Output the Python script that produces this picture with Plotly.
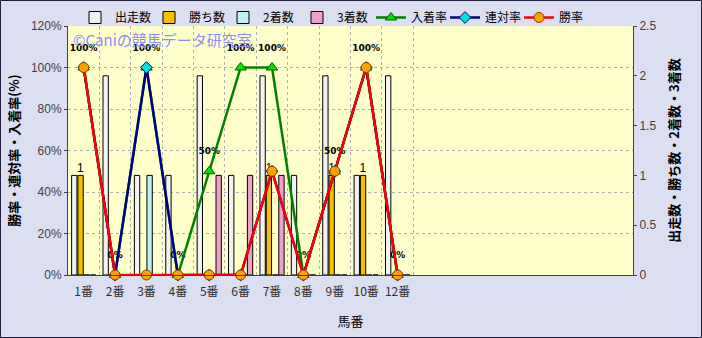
import plotly.graph_objects as go

categories = ["1番", "2番", "3番", "4番", "5番", "6番", "7番", "8番", "9番", "10番", "12番"]
starts = [1, 2, 1, 1, 2, 1, 2, 1, 2, 1, 2]
wins = [1, 0, 0, 0, 0, 0, 1, 0, 1, 1, 0]
seconds = [0, 0, 1, 0, 0, 0, 0, 0, 0, 0, 0]
thirds = [0, 0, 0, 0, 1, 1, 1, 0, 0, 0, 0]
place_rate = [100, 0, 100, 0, 50, 100, 100, 0, 50, 100, 0]
quinella_rate = [100, 0, 100, 0, 0, 0, 50, 0, 50, 100, 0]
win_rate = [100, 0, 0, 0, 0, 0, 50, 0, 50, 100, 0]
n_slots = 18

FONT = "Liberation Sans, Noto Sans CJK JP, sans-serif"
JP = "Noto Sans CJK JP, sans-serif"

fig = go.Figure()
bar_specs = [
    ("出走数", starts, "#f2f2f2", None),
    ("勝ち数", wins, "#f5c000", [str(v) if v > 0 else "" for v in wins]),
    ("2着数", seconds, "#bff0f0", None),
    ("3着数", thirds, "#f0a0c8", None),
]
for name, vals, col, txt in bar_specs:
    fig.add_trace(go.Bar(
        x=categories, y=vals, name=name, yaxis="y",
        marker=dict(color=col, line=dict(color="#000000", width=1)),
        text=txt, textposition="outside", cliponaxis=False, constraintext="none",
        textfont=dict(family=FONT, size=12, color="#000000"),
    ))

# data labels for 入着率 (drawn under lines)
fig.add_trace(go.Scatter(
    x=categories, y=place_rate, yaxis="y2", mode="markers+text",
    text=[f"{v}%" for v in place_rate], textposition="top center",
    marker=dict(size=22, opacity=0), showlegend=False, hoverinfo="skip",
    textfont=dict(family="DejaVu Sans, sans-serif", size=9, color="#000000", weight="bold"),
    cliponaxis=False,
))
fig.add_trace(go.Scatter(
    x=categories, y=place_rate, yaxis="y2", name="入着率", mode="lines+markers",
    line=dict(color="#008000", width=2.5),
    marker=dict(symbol="triangle-up", size=10, color="#00e000", line=dict(color="#006000", width=1)),
    cliponaxis=False,
))
fig.add_trace(go.Scatter(
    x=categories, y=quinella_rate, yaxis="y2", name="連対率", mode="lines+markers",
    line=dict(color="#000080", width=2.5),
    marker=dict(symbol="diamond", size=9, color="#00e0e0", line=dict(color="#000080", width=1)),
    cliponaxis=False,
))
fig.add_trace(go.Scatter(
    x=categories, y=win_rate, yaxis="y2", name="勝率", mode="lines+markers",
    line=dict(color="#ff0000", width=2.5),
    marker=dict(symbol="circle", size=10, color="#ffa000", line=dict(color="#804000", width=1)),
    cliponaxis=False,
))

L, R, T, B = 68, 69, 26, 63
W, H = 702, 338
pw, ph = W - L - R, H - T - B

fig.update_layout(
    width=W, height=H,
    margin=dict(l=L, r=R, t=T, b=B, pad=0, autoexpand=False),
    paper_bgcolor="#dcdff2", plot_bgcolor="#ffffcc",
    barmode="group", bargap=0.2, bargroupgap=0.15,
    font=dict(family=JP, size=12, color="#000000"),
    showlegend=True,
    legend=dict(orientation="h", x=7 / W + L / W, xref="container", xanchor="left",
                yref="container", y=1 - 3 / H, yanchor="top",
                font=dict(family=JP, size=12, color="#000000"), bgcolor="rgba(0,0,0,0)",
                itemwidth=30, entrywidth=29, traceorder="normal"),
    xaxis=dict(type="category", range=[-0.5, n_slots - 0.5], tickson="boundaries",
               showgrid=True, gridcolor="#b0b0b0", griddash="dot", gridwidth=1,
               showline=True, linecolor="#404040", linewidth=1, ticks="", tickangle=0,
               ticklabelstandoff=6,
               tickfont=dict(family=JP, size=12, color="#303030"),
               title=dict(text="馬番", font=dict(family=JP, size=13, color="#000000"), standoff=18)),
    yaxis=dict(range=[0, 2.5], dtick=0.5, side="right", showgrid=False, zeroline=False,
               showline=True, linecolor="#404040", linewidth=1, ticks="outside", ticklen=3,
               tickcolor="#404040",
               tickfont=dict(family=FONT, size=12, color="#404040"),
               title=dict(text="出走数・勝ち数・2着数・3着数",
                          font=dict(family=JP, size=13, color="#000000", weight="bold"), standoff=14)),
    yaxis2=dict(range=[0, 120], dtick=20, ticksuffix="%", side="left", overlaying="y",
                showgrid=True, gridcolor="#b0b0b0", griddash="dot", zeroline=False,
                showline=True, linecolor="#404040", linewidth=1, ticks="outside", ticklen=3,
                tickcolor="#404040",
                tickfont=dict(family=FONT, size=12, color="#404040"),
                title=dict(text="勝率・連対率・入着率(%)",
                           font=dict(family=JP, size=13, color="#000000", weight="bold"), standoff=8)),
    annotations=[dict(text="©Caniの競馬データ研究室", xref="paper", yref="paper",
                      x=3 / pw, y=1 - 1 / ph, xanchor="left", yanchor="top", showarrow=False,
                      font=dict(family=JP, size=15, color="#8c8cff"))],
    shapes=[dict(type="rect", xref="paper", yref="paper",
                 x0=-L / pw + 0.5 / pw, x1=1 + (R - 0.5) / pw,
                 y0=-B / ph + 0.5 / ph, y1=1 + (T - 0.5) / ph,
                 line=dict(color="#202040", width=1), layer="below")],
)

fig.write_html("out.html")
